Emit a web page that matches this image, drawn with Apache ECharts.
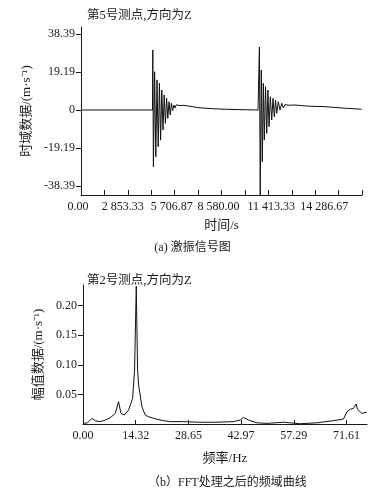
<!DOCTYPE html>
<html>
<head>
<meta charset="utf-8">
<script src="https://cdn.jsdelivr.net/npm/echarts@6/dist/echarts.min.js"></script>
<style>
  html, body { margin: 0; padding: 0; background: #fff; }
  #chart { width: 385px; height: 496px; }
</style>
</head>
<body>
<div id="chart"></div>
<script>
// (a) excitation signal, time in s, value in m·s^-1
const signalTime = [0, 4355, 4375, 4411, 4484, 4558, 4631, 4704, 4777, 4850, 4923, 4996, 5069, 5143, 5216, 5289, 5362, 5435, 5508, 5581, 5654, 5727, 5801, 5874, 6032, 6215, 6641, 7251, 8165, 9079, 10785,
  10846, 10870, 10919, 10986, 11047, 11108, 11168, 11242, 11315, 11388, 11455, 11534, 11619, 11699, 11778, 11851, 11924, 12021, 12125, 12228, 12326, 12429, 12612, 13039, 13953, 14867, 16085, 17100]
const signalValue = [0, 0, 30.3, -28.6, 19.3, -23.6, 15.2, -18.5, 13.5, -15.2, 10.1, -10.1, 7.6, -6.7, 5.9, -4.2, 4.2, -2.5, 3.4, -0.3, 2.5, 1.0, 2.6, 1.8, 2.2, 2.4, 1.9, 1.1, 0.6, 0.3, 0,
  0, 31.8, -43, 20.2, -26.1, 13.5, -15.2, 11.8, -11.8, 10.1, -8.4, 6.7, -5, 5.9, -3.4, 5, -1.7, 4.2, 0, 3.4, 1, 2.8, 2.4, 2.5, 1.9, 1.7, 0.9, 0.4]

// (b) FFT spectrum
const freqHz = [0, 1.25, 2.45, 3.34, 4.70, 6.06, 7.42, 8.78, 9.67, 10.32, 11.22, 12.39, 13.48, 14.02, 14.48, 14.84, 15.11, 16.03, 16.93, 17.82, 20.11, 21.90, 23.72, 27.33, 31.87, 36.41, 40.92, 42.74, 43.64, 44.99, 47.27, 49.99, 54.50, 56.32, 59.04, 63.58, 68.09, 70.80, 71.73, 72.62, 73.52, 74.25, 74.61, 75.07, 75.80, 77.16]
const ampValue = [0.001, 0.002, 0.0096, 0.0056, 0.0039, 0.0067, 0.0106, 0.018, 0.0376, 0.018, 0.0152, 0.0236, 0.0433, 0.091, 0.233, 0.091, 0.066, 0.029, 0.015, 0.0123, 0.008, 0.0056, 0.004, 0.004, 0.003, 0.003, 0.004, 0.0067, 0.011, 0.0067, 0.002, 0.001, 0.003, 0.002, 0.0005, 0.002, 0.0056, 0.0084, 0.0207, 0.0248, 0.0264, 0.0337, 0.0248, 0.022, 0.018, 0.02]

// ticks and labels
const timeTickValues = [0, 1426.67, 2853.33, 4280, 5706.67, 7133.33, 8560, 9986.67, 11413.33, 12840, 14266.67, 15693.33, 17120]
const timeLabelValues = [0, 2853.33, 5706.67, 8560, 11413.33, 14266.67]
const timeLabels = ['0.00', '2 853.33', '5 706.87', '8 580.00', '11 413.33', '14 286.67']
const signalTicks = [-38.39, -19.19, 0, 19.19, 38.39]
const signalLabels = ['-38.39', '-19.19', '0', '19.19', '38.39']
const freqTicks = [0, 14.322, 28.645, 42.967, 57.29, 71.612]
const freqLabels = ['0.00', '14.32', '28.65', '42.97', '57.29', '71.61']
const ampTicks = [0.05, 0.10, 0.15, 0.20]
const ampLabels = ['0.05', '0.10', '0.15', '0.20']

const serif = "'Liberation Serif', 'Noto Sans CJK SC', serif"
const ink = '#1a1a1a'

// the printed time labels sit a little off their ticks; nudge them (px, + = right)
const timeLabelNudge = [-3, -5, -3, -3, 3, 9]

const chart = echarts.init(document.getElementById('chart'))

const axisCommon = {
  axisLine: { show: true, onZero: false, lineStyle: { color: ink, width: 1 } },
  splitLine: { show: false },
  nameTextStyle: { fontFamily: serif, fontSize: 13, color: ink },
}

const nudgeRich = {}
timeLabelNudge.forEach((n, i) => {
  nudgeRich['n' + i] = {
    fontFamily: serif, fontSize: 12, color: ink,
    padding: n > 0 ? [0, 0, 0, 2 * n] : [0, -2 * n, 0, 0]
  }
})

const option = {
  backgroundColor: '#fff',
  animation: false,
  title: [
    { text: '第5号测点,方向为Z', left: 82, top: 4, textStyle: { fontFamily: serif, fontSize: 12.5, fontWeight: 'normal', color: ink } },
    { text: '(a) 激振信号图', left: 'center', top: 237, textStyle: { fontFamily: serif, fontSize: 12, fontWeight: 'normal', color: ink } },
    { text: '第2号测点,方向为Z', left: 82, top: 269, textStyle: { fontFamily: serif, fontSize: 12.5, fontWeight: 'normal', color: ink } },
    { text: '（b）FFT处理之后的频域曲线', left: 143, top: 472, textStyle: { fontFamily: serif, fontSize: 12, fontWeight: 'normal', color: ink } }
  ],
  grid: [
    { left: 81, top: 27, width: 281, height: 168 },
    { left: 83, top: 285, width: 284, height: 139 }
  ],
  xAxis: [
    {
      ...axisCommon,
      gridIndex: 0, type: 'value', min: 0, max: 17120,
      name: '时间/s', nameLocation: 'middle', nameGap: 24,
      axisTick: { show: true, inside: true, length: 5, lineStyle: { color: ink }, customValues: timeTickValues },
      axisLabel: {
        customValues: timeLabelValues, margin: 6, fontFamily: serif, fontSize: 12, color: ink,
        hideOverlap: false, rich: nudgeRich,
        formatter: (v) => {
          const i = timeLabelValues.indexOf(v)
          return i < 0 ? '' : '{n' + i + '|' + timeLabels[i] + '}'
        }
      }
    },
    {
      ...axisCommon,
      gridIndex: 1, type: 'value', min: 0, max: 77.2,
      name: '频率/Hz', nameLocation: 'middle', nameGap: 28,
      axisTick: { show: true, inside: true, length: 4, lineStyle: { color: ink }, customValues: freqTicks },
      axisLabel: {
        customValues: freqTicks, margin: 6, fontFamily: serif, fontSize: 12, color: ink,
        hideOverlap: false,
        formatter: (v) => freqLabels[freqTicks.indexOf(v)] ?? ''
      }
    }
  ],
  yAxis: [
    {
      ...axisCommon,
      gridIndex: 0, type: 'value', min: -42.9, max: 41.9,
      name: '时域数据/(m·s⁻¹)', nameLocation: 'middle', nameGap: 41, nameRotate: 90,
      axisTick: { show: true, inside: false, length: 5, lineStyle: { color: ink }, customValues: signalTicks },
      axisLabel: {
        customValues: signalTicks, margin: 6, fontFamily: serif, fontSize: 12, color: ink,
        formatter: (v) => signalLabels[signalTicks.indexOf(v)] ?? ''
      }
    },
    {
      ...axisCommon,
      gridIndex: 1, type: 'value', min: 0, max: 0.235,
      name: '幅值数据/(m·s⁻¹)', nameLocation: 'middle', nameGap: 36, nameRotate: 90,
      axisTick: { show: true, inside: false, length: 5, lineStyle: { color: ink }, customValues: ampTicks },
      axisLabel: {
        customValues: ampTicks, margin: 6, fontFamily: serif, fontSize: 12, color: ink,
        formatter: (v) => ampLabels[ampTicks.indexOf(v)] ?? ''
      }
    }
  ],
  series: [
    {
      type: 'line', xAxisIndex: 0, yAxisIndex: 0,
      data: signalTime.map((t, i) => [t, signalValue[i]]),
      showSymbol: false, clip: true,
      lineStyle: { color: '#111', width: 1 }
    },
    {
      type: 'line', xAxisIndex: 1, yAxisIndex: 1,
      data: freqHz.map((f, i) => [f, ampValue[i]]),
      showSymbol: false, clip: true,
      lineStyle: { color: '#111', width: 1 }
    }
  ]
}

chart.setOption(option)
</script>
</body>
</html>
